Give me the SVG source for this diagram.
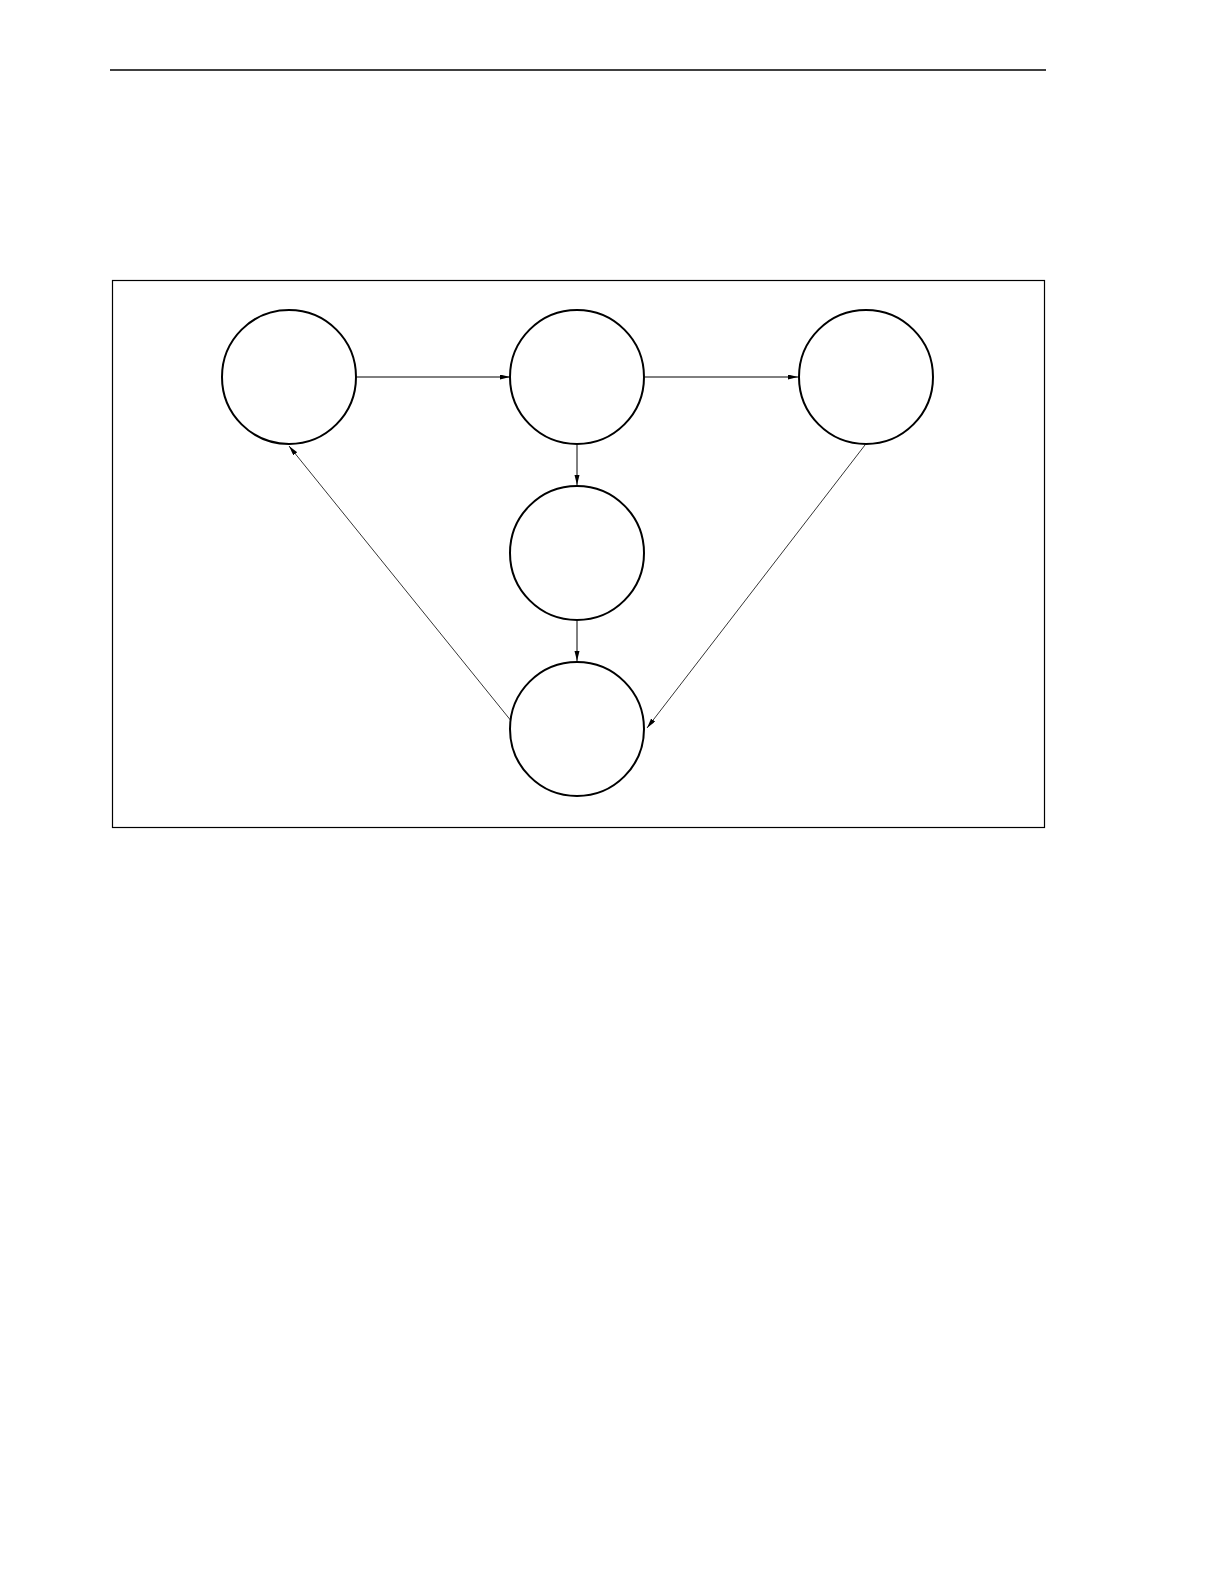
<svg xmlns="http://www.w3.org/2000/svg" width="1224" height="1584" viewBox="0 0 1224 1584">
<style>
.node{fill:#fff;stroke:#000;stroke-width:2}
.edge{fill:none;stroke:#000;stroke-width:1;marker-end:url(#ah)}
.thin{stroke-width:0.8}
</style>
<defs>
<marker id="ah" markerUnits="userSpaceOnUse" markerWidth="12" markerHeight="6" refX="10" refY="2.5" orient="auto">
<path d="M0,0 L10,2.5 L0,5 Z" fill="#000"/>
</marker>
</defs>
<rect width="1224" height="1584" fill="#fff"/>
<line x1="110" y1="70" x2="1046" y2="70" stroke="#000" stroke-width="1.3"/>
<rect x="112.5" y="280.5" width="932" height="547" fill="none" stroke="#000" stroke-width="1.2"/>
<g id="connectors">
<line class="edge" x1="357" y1="377" x2="510" y2="377"/>
<line class="edge" x1="645" y1="377" x2="798" y2="377"/>
<line class="edge" x1="577" y1="445" x2="577" y2="485"/>
<line class="edge" x1="577" y1="621" x2="577" y2="661"/>
<line class="edge thin" x1="865" y1="445" x2="647" y2="728"/>
<line class="edge thin" x1="512" y1="722" x2="289" y2="446"/>
</g>
<g id="nodeA"><circle class="node" cx="289" cy="377" r="67"/></g>
<g id="nodeB"><circle class="node" cx="577" cy="377" r="67"/></g>
<g id="nodeC"><circle class="node" cx="866" cy="377" r="67"/></g>
<g id="nodeD"><circle class="node" cx="577" cy="553" r="67"/></g>
<g id="nodeE"><circle class="node" cx="577" cy="729" r="67"/></g>
</svg>
